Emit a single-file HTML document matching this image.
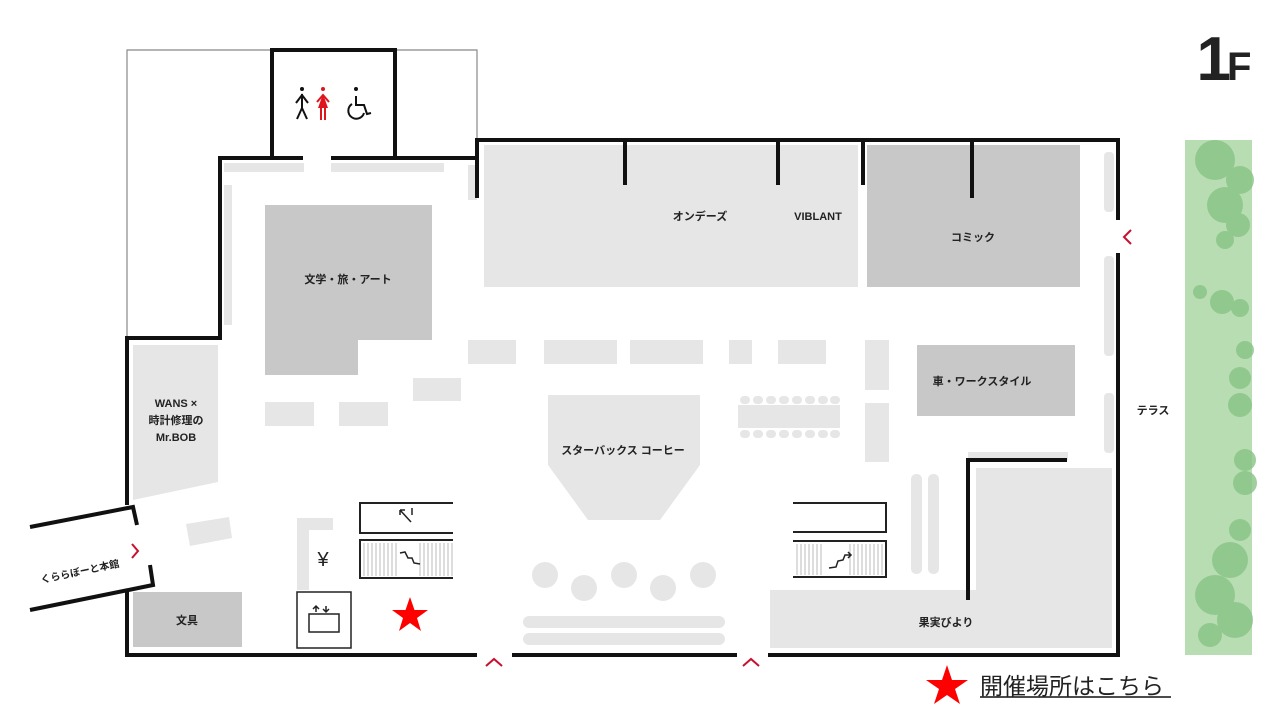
<!DOCTYPE html>
<html><head><meta charset="utf-8"><style>
html,body{margin:0;padding:0;background:#fff;}
svg{display:block;}
text{font-family:"Liberation Sans","Noto Sans CJK JP",sans-serif;font-weight:bold;fill:#222;}
text.n{font-weight:normal;}
</style></head><body>
<svg width="1280" height="720" viewBox="0 0 1280 720" xmlns="http://www.w3.org/2000/svg">
<path d="M127 338 V50 H477 V140" fill="none" stroke="#888" stroke-width="1.2"/>
<rect x="1185" y="140" width="67" height="515" fill="#b9ddb3"/>
<g fill="#86c485" opacity="0.8">
<circle cx="1215" cy="160" r="20"/><circle cx="1240" cy="180" r="14"/><circle cx="1225" cy="205" r="18"/><circle cx="1238" cy="225" r="12"/><circle cx="1225" cy="240" r="9"/>
<circle cx="1200" cy="292" r="7"/><circle cx="1222" cy="302" r="12"/><circle cx="1240" cy="308" r="9"/>
<circle cx="1245" cy="350" r="9"/><circle cx="1240" cy="378" r="11"/><circle cx="1240" cy="405" r="12"/><circle cx="1245" cy="460" r="11"/><circle cx="1245" cy="483" r="12"/>
<circle cx="1240" cy="530" r="11"/><circle cx="1230" cy="560" r="18"/><circle cx="1215" cy="595" r="20"/><circle cx="1235" cy="620" r="18"/><circle cx="1210" cy="635" r="12"/>
</g>
<g fill="#e6e6e6">
<rect x="484" y="145" width="374" height="142"/>
<polygon points="133,345 218,345 218,482 133,500"/>
<polygon points="548,395 700,395 700,465 660,520 588,520 548,465"/>
<rect x="770" y="590" width="342" height="58"/>
<rect x="976" y="468" width="136" height="122"/>
<rect x="968" y="452" width="100" height="8"/>
<rect x="224" y="163" width="80" height="9"/><rect x="331" y="163" width="113" height="9"/>
<rect x="224" y="185" width="8" height="140"/><rect x="468" y="165" width="9" height="35"/>
<rect x="468" y="340" width="48" height="24"/><rect x="544" y="340" width="73" height="24"/><rect x="630" y="340" width="73" height="24"/><rect x="729" y="340" width="23" height="24"/><rect x="778" y="340" width="48" height="24"/>
<rect x="413" y="378" width="48" height="23"/><rect x="265" y="402" width="49" height="24"/><rect x="339" y="402" width="49" height="24"/>
<rect x="865" y="340" width="24" height="50"/><rect x="865" y="403" width="24" height="59"/>
<rect x="738" y="405" width="102" height="23"/>
<polygon points="186,524 229,517 232,538 190,546"/>
<polygon points="297,518 333,518 333,530 309,530 309,590 297,590"/>
</g>
<g fill="#e6e6e6">
<rect x="740" y="396" width="10" height="8" rx="4"/><rect x="753" y="396" width="10" height="8" rx="4"/><rect x="766" y="396" width="10" height="8" rx="4"/><rect x="779" y="396" width="10" height="8" rx="4"/><rect x="792" y="396" width="10" height="8" rx="4"/><rect x="805" y="396" width="10" height="8" rx="4"/><rect x="818" y="396" width="10" height="8" rx="4"/><rect x="830" y="396" width="10" height="8" rx="4"/>
<rect x="740" y="430" width="10" height="8" rx="4"/><rect x="753" y="430" width="10" height="8" rx="4"/><rect x="766" y="430" width="10" height="8" rx="4"/><rect x="779" y="430" width="10" height="8" rx="4"/><rect x="792" y="430" width="10" height="8" rx="4"/><rect x="805" y="430" width="10" height="8" rx="4"/><rect x="818" y="430" width="10" height="8" rx="4"/><rect x="830" y="430" width="10" height="8" rx="4"/>
<rect x="911" y="474" width="11" height="100" rx="5"/><rect x="928" y="474" width="11" height="100" rx="5"/>
<rect x="1104" y="152" width="10" height="60" rx="4"/><rect x="1104" y="256" width="10" height="100" rx="4"/><rect x="1104" y="393" width="10" height="60" rx="4"/>
<rect x="523" y="616" width="202" height="12" rx="6"/><rect x="523" y="633" width="202" height="12" rx="6"/>
<circle cx="545" cy="575" r="13"/><circle cx="584" cy="588" r="13"/><circle cx="624" cy="575" r="13"/><circle cx="663" cy="588" r="13"/><circle cx="703" cy="575" r="13"/>
</g>
<g fill="#c8c8c8">
<rect x="867" y="145" width="213" height="142"/>
<polygon points="265,205 432,205 432,340 358,340 358,375 265,375"/>
<rect x="133" y="592" width="109" height="55"/>
<rect x="917" y="345" width="158" height="71"/>
</g>
<g fill="none" stroke="#222" stroke-width="2">
<path d="M453 503 H360 V533 H453"/><path d="M453 540 H360 V578 H453"/>
<path d="M793 503 H886 V532 H793"/><path d="M793 541 H886 V577 H793"/>
<rect x="297" y="592" width="54" height="56" stroke-width="1.5"/>
</g>
<g stroke="#bbb" stroke-width="1">
<path d="M364 543 V576 M368 543 V576 M372 543 V576 M376 543 V576 M380 543 V576 M384 543 V576 M388 543 V576 M392 543 V576 M396 543 V576 M420 543 V576 M424 543 V576 M428 543 V576 M432 543 V576 M436 543 V576 M440 543 V576 M444 543 V576 M448 543 V576 M452 543 V576"/>
<path d="M797 544 V575 M801 544 V575 M805 544 V575 M809 544 V575 M813 544 V575 M817 544 V575 M821 544 V575 M850 544 V575 M854 544 V575 M858 544 V575 M862 544 V575 M866 544 V575 M870 544 V575 M874 544 V575 M878 544 V575 M882 544 V575"/>
</g>
<g fill="none" stroke="#222" stroke-width="1.5">
<path d="M400 510 L411 522 M400 510 V515 M400 510 H405"/><path d="M412 508 V515"/>
<path d="M400 553 L405 552 L408 558 L412 558 L414 563 L420 564"/><path d="M829 568 L836 567 L838 561 L843 560 L845 555 L851 555 M848 552 L851 555 L848 558"/>
<rect x="309" y="614" width="30" height="18"/><path d="M316 606 V612 M313 609 L316 606 L319 609 M326 606 V612 M323 609 L326 612 L329 609"/>
</g>
<text class="n" x="323" y="566" font-size="20" text-anchor="middle">¥</text>
<g fill="none" stroke="#111" stroke-width="4">
<path d="M272 158 V50 H395 V158"/>
<path d="M303 158 H220 V338 H127 V505"/>
<path d="M331 158 H477"/>
<path d="M477 198 V140 H1118 V220"/>
<path d="M1118 253 V655 H768"/>
<path d="M737 655 H512"/><path d="M477 655 H127 V590"/>
<path d="M625 140 V185 M778 140 V185 M863 140 V185 M972 140 V198"/>
<path d="M968 600 V460 H1067"/>
<path d="M30 527 L133 507 L137 525"/><path d="M30 610 L153 585 L150 565"/>
</g>
<g fill="none" stroke="#c8102e" stroke-width="2">
<path d="M132 544 L138 551 L132 558"/>
<path d="M1131 230 L1124 237 L1131 244"/>
<path d="M486 666 L494 659 L502 666"/><path d="M743 666 L751 659 L759 666"/>
</g>
<g fill="#111" stroke="#111" stroke-width="2">
<circle cx="302" cy="89" r="2" stroke="none"/><path d="M302 94 V108 M296 103 L302 95 L308 103 M302 108 L297 119 M302 108 L307 119" fill="none"/>
<path d="M356 96 V105 H364 L367 114 L371 113" fill="none"/><path d="M352 104 A8 8 0 1 0 364 113" fill="none"/><circle cx="356" cy="89" r="2" stroke="none"/>
</g>
<g fill="#e0141e" stroke="#e0141e" stroke-width="2">
<circle cx="323" cy="89" r="2" stroke="none"/><polygon points="323,94 328,108 318,108" stroke="none"/><path d="M317 102 L323 95 L329 102 M321 108 V120 M325 108 V120" fill="none"/>
</g>
<g font-size="11">
<text x="700" y="220" text-anchor="middle">オンデーズ</text>
<text x="818" y="220" text-anchor="middle">VIBLANT</text>
<text x="973" y="241" text-anchor="middle">コミック</text>
<text x="348" y="283" text-anchor="middle">文学・旅・アート</text>
<text x="982" y="385" text-anchor="middle">車・ワークスタイル</text>
<text x="1153" y="414" text-anchor="middle">テラス</text>
<text x="623" y="454" text-anchor="middle">スターバックス コーヒー</text>
<text x="176" y="407" text-anchor="middle">WANS ×</text>
<text x="176" y="424" text-anchor="middle">時計修理の</text>
<text x="176" y="441" text-anchor="middle">Mr.BOB</text>
<text x="187" y="624" text-anchor="middle">文具</text>
<text x="946" y="626" text-anchor="middle">果実びより</text>
<text x="80" y="575" text-anchor="middle" font-size="10" transform="rotate(-12 80 572)">くららぼーと本館</text>
</g>
<text x="1222" y="80" font-size="62" text-anchor="middle" fill="#111" letter-spacing="-4">1<tspan font-size="40">F</tspan></text>
<polygon points="410,597 414.5,610 428,610 417,618 421,631 410,623 399,631 403,618 392,610 405.5,610" fill="#f00"/>
<polygon points="947,665 952,680 968,680 955,689 960,704 947,695 934,704 939,689 926,680 942,680" fill="#f00"/>
<text class="n" x="980" y="694" font-size="23" fill="#111">開催場所はこちら</text>
<line x1="980" y1="697" x2="1171" y2="697" stroke="#111" stroke-width="1.5"/>
</svg>
</body></html>
